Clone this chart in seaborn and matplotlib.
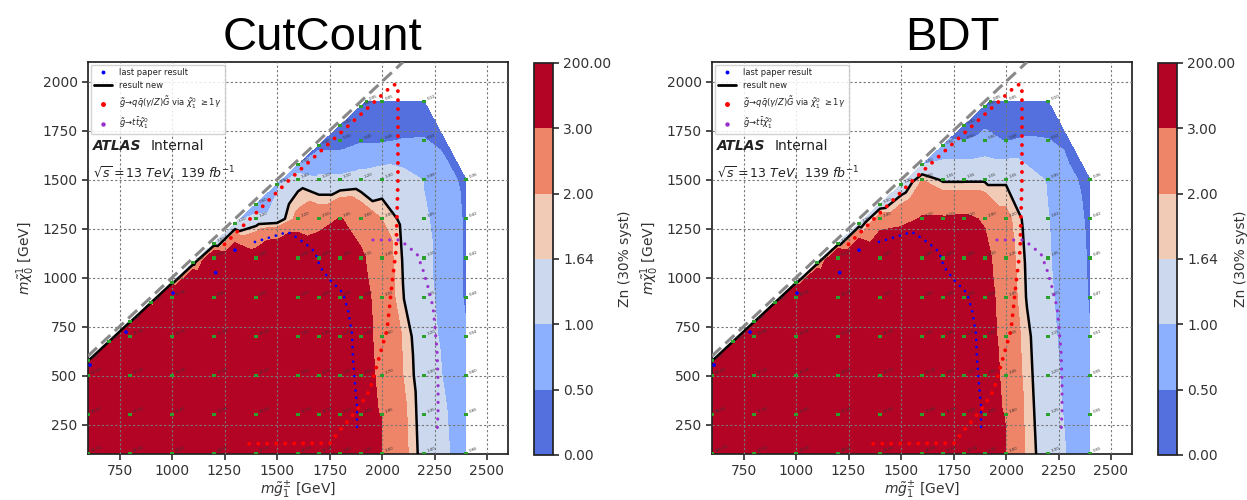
import matplotlib
matplotlib.use("Agg")
import matplotlib.pyplot as plt
import matplotlib.tri as mtri
from matplotlib.lines import Line2D
import seaborn as sns
import pandas as pd

# ---------------- data ----------------
panel_titles = ["CutCount", "BDT"]
zn_levels = [0.0, 0.5, 1.0, 1.64, 2.0, 3.0, 200.0]
level_colors = ['#5470de', '#8db0fe', '#cbd8ee', '#f2cbb7', '#ee8468', '#b40426']
result_level = 1.64

grid_mg = [600, 700, 800, 900, 1000, 1100, 1200, 1300, 1400, 1500,
           1600, 1700, 1800, 1900, 2000, 2100, 2200, 2300, 2400]
grid_mn = [100, 300, 500, 700, 900, 1100, 1300, 1500, 1700, 1900]

zn_cutcount_cols = [
    [95.74, 80.41, 62.05],
    [90.2, 74.5, 55.3],
    [86.46, 66.2, 47.5, 31.39],
    [76.3, 57.8, 40.2, 26.1],
    [64.47, 51.87, 34.2, 20.15, 12.9],
    [52.4, 41.7, 30.5, 18.2, 10.4],
    [44.5, 33.99, 26.1, 15.9, 8.9, 5.2],
    [34.3, 26.7, 20.3, 12.8, 7.1, 4.5],
    [27.2, 20.3, 15.1, 10.2, 6.3, 3.6, 1.2],
    [21.4, 16.5, 12.1, 8.3, 5.6, 4.5, 1.3],
    [16.8, 12.5, 9.3, 7.2, 5.1, 4.5, 2.2, 1.4],
    [12.3, 10.1, 8.2, 6.3, 4.6, 4.0, 2.5, 1.1],
    [9.4, 8.1, 6.6, 5.2, 4.1, 3.6, 3.05, 1.1, 0.3],
    [6.2, 4.0, 3.6, 3.5, 3.4, 3.15, 2.6, 1.2, 0.45],
    [3.0, 2.85, 2.7, 2.6, 2.55, 2.45, 2.0, 1.3, 0.45, 0.05],
    [2.2, 2.15, 2.0, 1.95, 1.66, 1.6, 1.5, 1.2, 0.52, 0.08],
    [1.4, 1.35, 1.3, 1.2, 1.15, 1.1, 1.05, 0.98, 0.53, 0.12],
    [1.1, 1.05, 0.95, 0.9, 0.85, 0.85, 0.85, 0.7, 0.35],
    [0.66, 0.65, 0.6, 0.54, 0.44, 0.42, 0.42, 0.36],
]
zn_bdt_cols = [
    [105.7, 88.2, 68.4],
    [98.1, 80.3, 60.2],
    [92.5, 71.6, 52.3, 34.8],
    [82.4, 62.1, 44.7, 29.3],
    [70.2, 55.6, 37.9, 22.4, 14.6],
    [57.3, 45.2, 33.1, 20.4, 12.1],
    [48.6, 37.2, 28.4, 17.6, 10.3, 6.1],
    [37.5, 29.1, 22.3, 14.2, 8.4, 5.3],
    [29.6, 22.4, 16.7, 11.3, 7.2, 4.4, 2.4],
    [23.5, 18.1, 13.4, 9.2, 6.3, 4.6, 2.6],
    [18.4, 13.8, 10.3, 7.9, 5.6, 4.8, 3.1, 2.0],
    [13.6, 11.2, 9.0, 6.9, 5.0, 4.2, 3.1, 1.55],
    [10.3, 8.9, 7.2, 5.7, 4.5, 3.8, 3.2, 1.55, 0.5],
    [6.3, 4.5, 3.8, 3.6, 3.5, 3.3, 2.9, 1.55, 0.6],
    [3.0, 2.8, 2.65, 2.55, 2.45, 2.35, 2.2, 1.55, 0.48, 0.05],
    [1.9, 1.85, 1.8, 1.75, 1.6, 1.55, 1.45, 1.25, 0.55, 0.08],
    [1.3, 1.25, 1.2, 1.15, 1.1, 1.05, 1.02, 0.95, 0.52, 0.1],
    [0.95, 0.9, 0.85, 0.8, 0.75, 0.75, 0.7, 0.6, 0.35],
    [0.55, 0.55, 0.55, 0.51, 0.47, 0.45, 0.42, 0.36],
]

diag_mg = [600, 700, 800, 900, 1000, 1100, 1200, 1300, 1400, 1500, 1600, 1700, 1800, 1900, 1925]
diag_mn = [575, 675, 775, 875, 975, 1075, 1175, 1275, 1375, 1475, 1575, 1675, 1775, 1875, 1900]
zn_cutcount_diag = [1.5, 1.3, 1.2, 1.2, 1.2, 1.2, 1.0, 1.1, 0.6, 0.9, 0.5, 0.4, 0.2, 0.2, 0.05]
zn_bdt_diag = [1.5, 1.4, 1.3, 1.3, 1.3, 1.3, 1.2, 1.3, 1.3, 1.2, 1.0, 0.6, 0.3, 0.3, 0.05]

annotated_mg = [600, 800, 1000, 1200, 1400, 1600, 1700, 1800, 1900, 2000, 2200, 2400]

# last paper result: isolated points along the diagonal + a dense curve
last_paper_pts_mg = [610, 781, 1005, 1208, 1300]
last_paper_pts_mn = [554, 722, 921, 1025, 1140]
last_paper_mg = [1395, 1457, 1552, 1600, 1643, 1681, 1705, 1752,
                 1814, 1838, 1857, 1862, 1871, 1881, 1881]
last_paper_mn = [1182, 1202, 1233, 1200, 1166, 1131, 1054, 988,
                 921, 835, 717, 580, 462, 340, 222]
photon_mg = [1250, 1560, 2052, 2071, 2076, 2076, 2067, 2048, 2024, 1976, 1943, 1881, 1800, 1752, 1340]
photon_mn = [1170, 1500, 1983, 1985, 1950, 1500, 1140, 972, 733, 554, 427, 324, 222, 155, 152]
ttbar_mg = [1957, 2086, 2167, 2195, 2219, 2243, 2252, 2262, 2267, 2267, 2262]
ttbar_mn = [1192, 1192, 1120, 1040, 952, 850, 748, 631, 462, 324, 197]

legend_labels = ["last paper result", "result new",
                 r"$\tilde{g}\!\rightarrow\! q\bar{q}(\gamma/Z)\tilde{G}$ via $\tilde{\chi}_1^0$ $\geq 1\gamma$",
                 r"$\tilde{g}\!\rightarrow\! t\bar{t}\tilde{\chi}_1^0$"]

x_ticks = [750, 1000, 1250, 1500, 1750, 2000, 2250, 2500]
y_ticks = [250, 500, 750, 1000, 1250, 1500, 1750, 2000]
x_limits = (600, 2600)
y_limits = (100, 2100)

# ---------------- style ----------------
sns.set_theme(style="ticks", rc={
    "axes.edgecolor": "#222222", "xtick.color": "#333333", "ytick.color": "#333333",
    "axes.labelcolor": "#333333", "text.color": "#222222",
    "xtick.labelsize": 10, "ytick.labelsize": 10, "axes.labelsize": 10,
    "xtick.major.size": 4, "ytick.major.size": 4,
})
plt.rcParams['font.family'] = ['DejaVu Sans']
plt.rcParams['mathtext.fontset'] = 'dejavusans'


def build_frame(cols, diag_vals):
    rows = []
    for x, col in zip(grid_mg, cols):
        for y, v in zip(grid_mn, col):
            rows.append((x, y, v))
    for x, y, v in zip(diag_mg, diag_mn, diag_vals):
        rows.append((x, y, v))
    return pd.DataFrame(rows, columns=["mg", "mn", "zn"])


W, H = 1247, 500
fig = plt.figure(figsize=(W / 100, H / 100), dpi=100)

panels = [
    dict(title=panel_titles[0], cols=zn_cutcount_cols, diag=zn_cutcount_diag,
         ax=[88, 46, 420, 392], cax=[534, 45, 19, 392], title_x=322, labelpad=5),
    dict(title=panel_titles[1], cols=zn_bdt_cols, diag=zn_bdt_diag,
         ax=[712, 46, 420, 392], cax=[1158, 45, 19, 392], title_x=952, labelpad=-1),
]

for p in panels:
    l, b, w, h = p["ax"]
    ax = fig.add_axes([l / W, b / H, w / W, h / H])
    cl, cb, cw, ch = p["cax"]
    cax = fig.add_axes([cl / W, cb / H, cw / W, ch / H])
    df = build_frame(p["cols"], p["diag"])
    tri = mtri.Triangulation(df["mg"], df["mn"])
    cs = ax.tricontourf(tri, df["zn"], levels=zn_levels, colors=level_colors, zorder=1)
    ax.tricontour(tri, df["zn"], levels=[result_level], colors="black", linewidths=1.8, zorder=4)

    # grid points + values
    n_diag = len(diag_mg)
    pts = df[df["mg"].isin(annotated_mg) | df.index.isin(range(len(df) - n_diag, len(df)))]
    sns.scatterplot(data=pts, x="mg", y="mn", marker="s", s=5, color="#2ca02c",
                    edgecolor="none", ax=ax, zorder=5, legend=False)
    for _, r in pts.iterrows():
        ax.text(r.mg + 12, r.mn + 8, f"{r.zn:.2f}", fontsize=2.8, rotation=20,
                color="#333333", zorder=5)

    # reference curves
    sns.scatterplot(x=last_paper_pts_mg, y=last_paper_pts_mn, color="blue", s=7,
                    edgecolor="none", ax=ax, zorder=6, legend=False)
    ax.plot(last_paper_mg, last_paper_mn, color="blue", lw=2.0,
            linestyle=(0, (0.01, 2.6)), dash_capstyle="round", zorder=6)
    ax.plot(photon_mg, photon_mn, color="red", lw=2.8,
            linestyle=(0, (0.01, 2.3)), dash_capstyle="round", zorder=6)
    ax.plot(ttbar_mg, ttbar_mn, color="#9932cc", lw=2.3,
            linestyle=(0, (0.01, 2.6)), dash_capstyle="round", zorder=6)
    ax.axline((x_limits[0], x_limits[0]), slope=1, color="#888888", lw=2.2,
              linestyle=(0, (4, 2)), zorder=6)

    ax.set_xlim(*x_limits)
    ax.set_ylim(*y_limits)
    ax.set_xticks(x_ticks)
    ax.set_yticks(y_ticks)
    ax.grid(True, linestyle=(0, (2, 2)), color="#777777", lw=0.8)
    ax.set_axisbelow(False)
    ax.set_xlabel(r"$m\tilde{g}_1^{\pm}$ [GeV]", labelpad=1)
    ax.set_ylabel(r"$m\tilde{\chi}_0^1$ [GeV]")

    handles = [
        Line2D([], [], marker="o", ls="none", color="blue", markersize=1.8),
        Line2D([], [], color="black", lw=2),
        Line2D([], [], marker="o", ls="none", color="red", markersize=2.5),
        Line2D([], [], marker="o", ls="none", color="#9932cc", markersize=2.2),
    ]
    leg = ax.legend(handles, legend_labels, loc="upper left", fontsize=6,
                    borderaxespad=0.3, handlelength=2.2, framealpha=0.85,
                    labelspacing=0.55, fancybox=True)
    leg.set_zorder(10)

    ax.text(0.012, 0.785, "ATLAS", transform=ax.transAxes, fontsize=10,
            fontweight="bold", fontstyle="italic", va="center", zorder=10)
    ax.text(0.148, 0.785, "Internal", transform=ax.transAxes, fontsize=10,
            va="center", zorder=10)
    ax.text(0.012, 0.715, r"$\sqrt{s} = 13\ TeV,\ 139\ fb^{-1}$", transform=ax.transAxes,
            fontsize=9, va="center", zorder=10)

    cbar = fig.colorbar(cs, cax=cax, ticks=zn_levels, format="%.2f", spacing="uniform")
    cbar.set_label("Zn (30% syst)", fontsize=10, labelpad=p["labelpad"])
    cbar.outline.set_edgecolor("#222222")
    cax.tick_params(labelsize=10)

    fig.text(p["title_x"] / W, 1 - 50 / H, p["title"], ha="center", va="baseline",
             fontsize=34, family="Liberation Sans", color="black")

fig.savefig("out.png", dpi=100)
